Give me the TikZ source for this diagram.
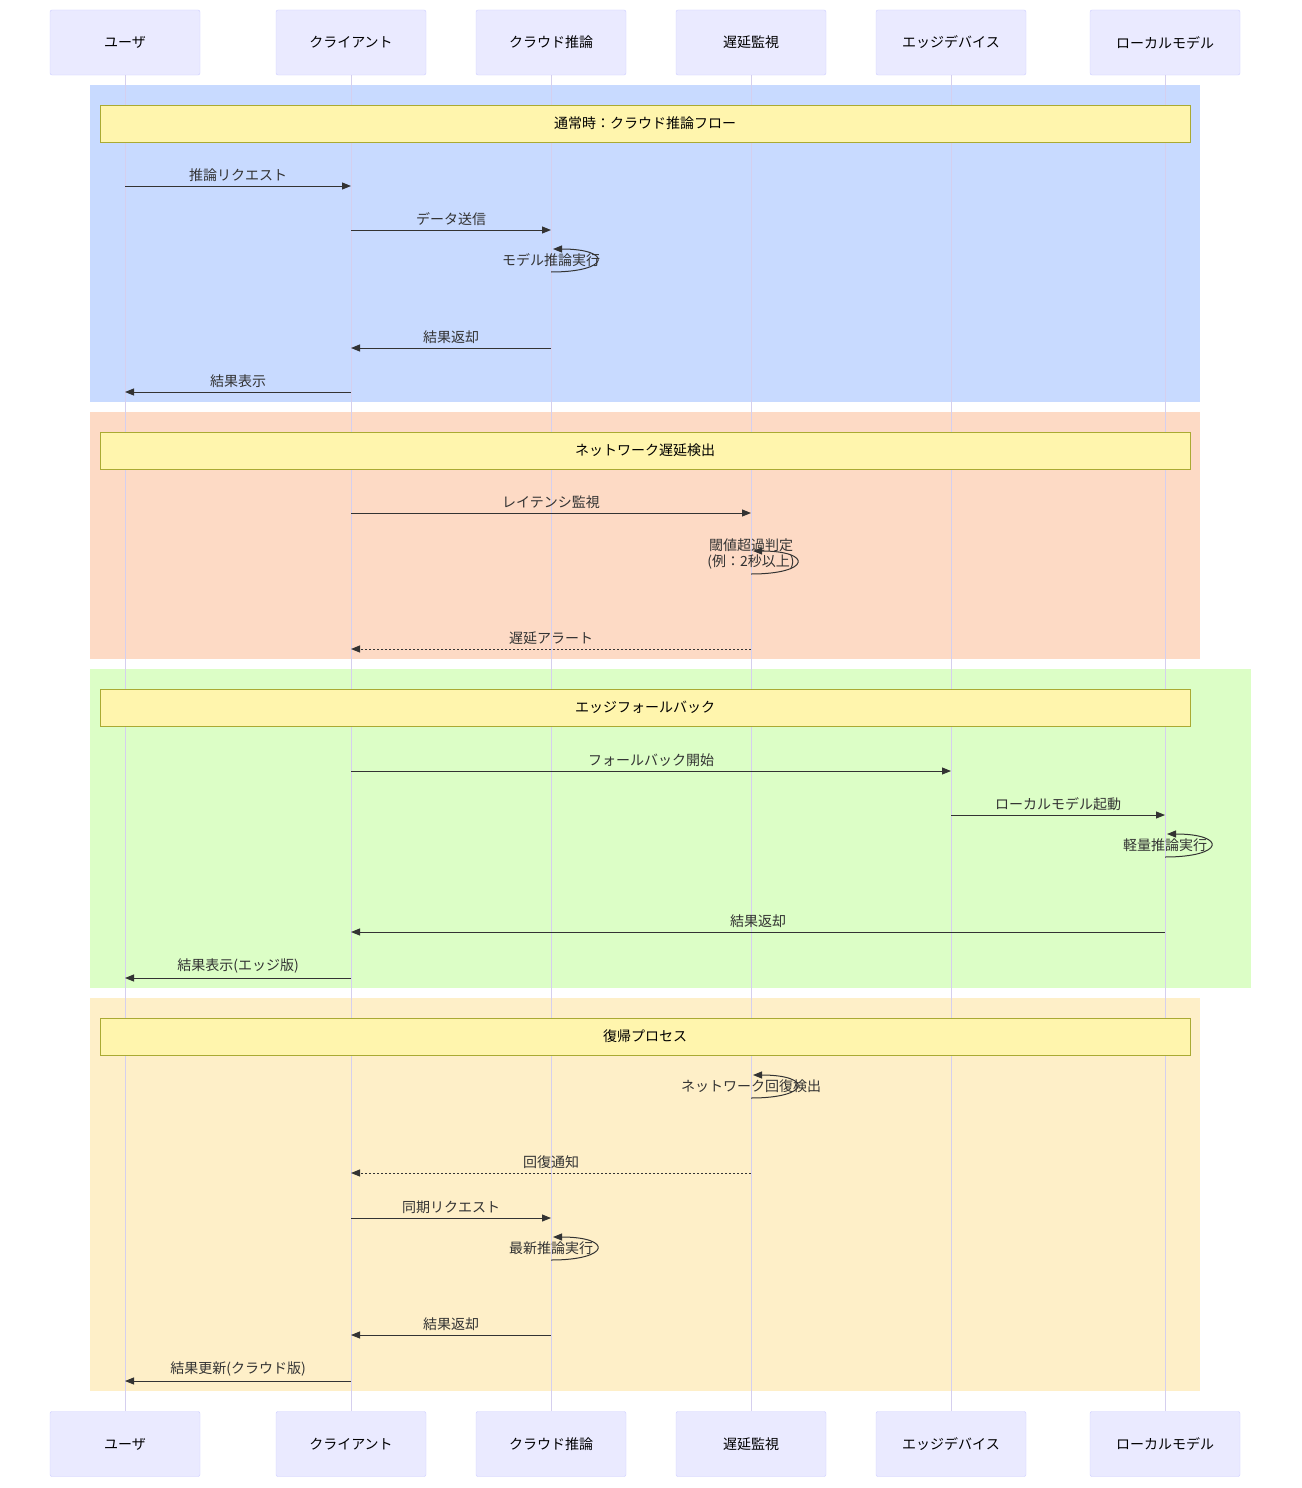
\documentclass[tikz,border=0pt]{standalone}
\usepackage{fontspec}
\setmainfont{Noto Sans CJK JP}
\usetikzlibrary{arrows.meta}

\definecolor{actfill}{HTML}{EAEAFF}
\definecolor{actline}{HTML}{CCCCFF}
\definecolor{lifeline}{HTML}{D5CFEE}
\definecolor{notefill}{HTML}{FFF5AD}
\definecolor{noteline}{HTML}{AAAA33}
\definecolor{msgline}{HTML}{333333}
\definecolor{secblue}{HTML}{C8DAFF}
\definecolor{secpeach}{HTML}{FDDAC5}
\definecolor{secgreen}{HTML}{DCFEC6}
\definecolor{secyellow}{HTML}{FEEFC8}

\tikzset{
   actor/.style = {draw=actline, fill=actfill, rounded corners=2pt,
      minimum width=150pt, minimum height=65pt, font=\fontsize{14}{16}\selectfont},
   note/.style = {draw=noteline, fill=notefill, minimum width=1090pt,
      minimum height=37pt, font=\fontsize{14}{16}\selectfont},
   msg/.style = {draw=msgline, line width=1pt, -{Triangle[length=9pt,width=7pt]}},
   reply/.style = {msg, dash pattern=on 2pt off 2pt},
   lbl/.style = {font=\fontsize{14}{16}\selectfont, text=msgline, inner sep=1pt},
}

% message between two lifelines
\newcommand{\msgline}[5][msg]{%
   \coordinate (m1) at (#2.south |- 0,#4);
   \coordinate (m2) at (#3.south |- 0,#4);
   \draw [#1] (m1) -- (m2) node [lbl, midway, above=3pt] {#5};
}
% message to self
\newcommand{\selfmsg}[3]{%
   \coordinate (s1) at (#1.south |- 0,#2);
   \node [lbl, above=4pt, align=center] at (s1) {#3};
   \draw [msg] (s1) .. controls +(60,0) and +(60,0) .. +(2,-23);
}

\begin{document}
\begin{tikzpicture}[x=1pt, y=-1pt]
   \useasboundingbox (0,0) rectangle (1301,1488);
   % sections
   \fill [secblue] (90,85) rectangle (1200,402);
   \fill [secpeach] (90,412) rectangle (1200,659);
   \fill [secgreen] (90,669) rectangle (1251,988);
   \fill [secyellow] (90,998) rectangle (1200,1391);
   % actors
   \foreach \name/\x/\txt in {usr/125/ユーザ, cli/351/クライアント, cld/551/クラウド推論,
         mon/751/遅延監視, edg/951/エッジデバイス, loc/1165/ローカルモデル} {
      \node [actor] (\name) at (\x,42.5) {\txt};
      \node [actor] (\name b) at (\x,1444) {\txt};
      \draw [lifeline, line width=1pt] (\name) -- (\name b);
   }
   % notes
   \node [note] (n1) at (645,123.5) {通常時：クラウド推論フロー};
   \node [note] (n2) at (645,450.5) {ネットワーク遅延検出};
   \node [note] (n3) at (645,707.5) {エッジフォールバック};
   \node [note] (n4) at (645,1036.5) {復帰プロセス};
   % normal flow
   \msgline{usr}{cli}{186}{推論リクエスト}
   \msgline{cli}{cld}{230}{データ送信}
   \selfmsg{cld}{272}{モデル推論実行}
   \msgline{cld}{cli}{348}{結果返却}
   \msgline{cli}{usr}{392}{結果表示}
   % delay detection
   \msgline{cli}{mon}{513}{レイテンシ監視}
   \selfmsg{mon}{574}{閾値超過判定\\(例：2秒以上)}
   \msgline[reply]{mon}{cli}{649}{遅延アラート}
   % edge fallback
   \msgline{cli}{edg}{771}{フォールバック開始}
   \msgline{edg}{loc}{815}{ローカルモデル起動}
   \selfmsg{loc}{857}{軽量推論実行}
   \msgline{loc}{cli}{932}{結果返却}
   \msgline{cli}{usr}{978}{結果表示(エッジ版)}
   % recovery
   \selfmsg{mon}{1098}{ネットワーク回復検出}
   \msgline[reply]{mon}{cli}{1173}{回復通知}
   \msgline{cli}{cld}{1218}{同期リクエスト}
   \selfmsg{cld}{1260}{最新推論実行}
   \msgline{cld}{cli}{1335}{結果返却}
   \msgline{cli}{usr}{1381}{結果更新(クラウド版)}
\end{tikzpicture}
\end{document}
